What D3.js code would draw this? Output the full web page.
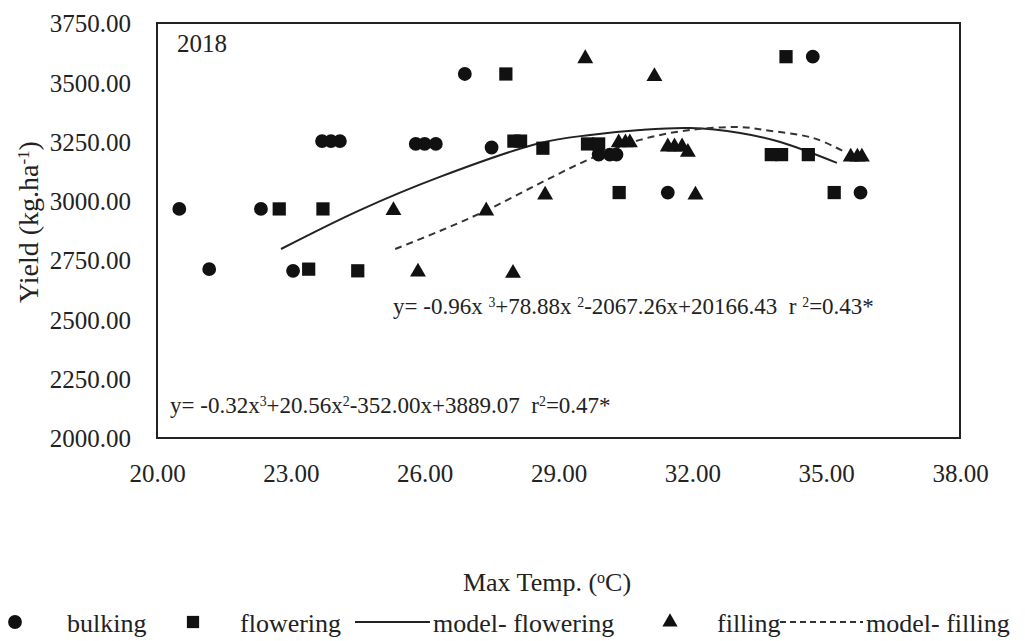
<!DOCTYPE html>
<html><head><meta charset="utf-8">
<script src="https://cdn.jsdelivr.net/npm/d3@7"></script>
<style>
html,body{margin:0;padding:0;background:#fff;}
svg text{font-family:"Liberation Serif","Times New Roman",serif;fill:#222;}
</style></head>
<body><svg id="c" width="1025" height="641"></svg>
<script>
// ---- data ----
const xTicks = [20, 23, 26, 29, 32, 35, 38];
const yTicks = [2000, 2250, 2500, 2750, 3000, 3250, 3500, 3750];

const bulkingX = [20.5, 21.17, 22.33, 23.05, 23.7, 23.9, 24.1, 25.8, 26.0, 26.25, 26.9, 27.5, 29.9, 30.15, 30.3, 31.45, 34.7, 35.77];
const bulkingY = [2966, 2712, 2966, 2705, 3252, 3252, 3252, 3240, 3240, 3240, 3535, 3225, 3195, 3195, 3195, 3035, 3608, 3035];

const floweringX = [22.74, 23.4, 23.72, 24.5, 27.82, 28.0, 28.15, 28.65, 29.65, 29.9, 30.36, 33.77, 34.0, 34.1, 34.6, 35.18];
const floweringY = [2966, 2712, 2966, 2705, 3535, 3252, 3252, 3222, 3240, 3240, 3035, 3195, 3195, 3608, 3195, 3035];

const fillingX = [25.3, 25.85, 27.38, 27.98, 28.7, 29.6, 30.35, 30.5, 30.6, 31.15, 31.45, 31.6, 31.77, 31.9, 32.07, 35.55, 35.7, 35.8];
const fillingY = [2960, 2700, 2958, 2695, 3025, 3600, 3245, 3245, 3245, 3525, 3228, 3228, 3228, 3205, 3025, 3185, 3185, 3185];

const modelFloweringX = [22.78, 24.55, 26.34, 28.59, 29.71, 30.83, 31.95, 33.07, 33.97, 35.24];
const modelFloweringY = [2797, 2961, 3101, 3244, 3278, 3299, 3307, 3286, 3248, 3160];

const modelFillingX = [25.34, 26.34, 27.40, 28.59, 29.71, 30.83, 31.95, 33.07, 33.6, 34.71, 35.42];
const modelFillingY = [2797, 2873, 2961, 3075, 3177, 3257, 3299, 3311, 3299, 3265, 3206];

const legendLabels = ["bulking", "flowering", "model- flowering", "filling", "model- filling"];

// ---- layout ----
const svg = d3.select("#c");
const L = 157, R = 960, T = 23, B = 438;
const x = d3.scaleLinear().domain([20, 38]).range([L, R]);
const y = d3.scaleLinear().domain([2000, 3750]).range([B, T]);
const FS = 25;
const ink = "#111";

const xAxis = d3.axisBottom(x).tickValues(xTicks).tickFormat(d3.format(".2f")).tickSize(0).tickPadding(0);
const gx = svg.append("g").attr("transform", `translate(0,${B})`).call(xAxis);
gx.select(".domain").remove();
gx.selectAll("text").attr("y", 44).attr("dy", null).style("font-size", FS + "px")
  .style("font-family", '"Liberation Serif",serif').attr("fill", "#222");

const yAxis = d3.axisLeft(y).tickValues(yTicks).tickFormat(d3.format(".2f")).tickSize(0).tickPadding(0);
const gy = svg.append("g").attr("transform", `translate(131,0)`).call(yAxis);
gy.select(".domain").remove();
gy.selectAll("text").attr("x", 0).attr("dy", "0.35em").style("font-size", FS + "px")
  .style("font-family", '"Liberation Serif",serif').attr("fill", "#222");

// plot border
svg.append("rect").attr("x", L).attr("y", T).attr("width", R - L).attr("height", B - T)
  .attr("fill", "none").attr("stroke", "#222").attr("stroke-width", 2);

// year label
svg.append("text").attr("x", 177).attr("y", 52).style("font-size", "25px").text("2018");

// model curves
const line = d3.line().x(d => x(d[0])).y(d => y(d[1])).curve(d3.curveCatmullRom.alpha(0.5));
svg.append("path").datum(d3.zip(modelFloweringX, modelFloweringY)).attr("d", line)
  .attr("fill", "none").attr("stroke", "#222").attr("stroke-width", 2);
svg.append("path").datum(d3.zip(modelFillingX, modelFillingY)).attr("d", line)
  .attr("fill", "none").attr("stroke", "#333").attr("stroke-width", 2).attr("stroke-dasharray", "7,5");

// markers
const circ = d3.symbol().type(d3.symbolCircle).size(150);
const sq = d3.symbol().type(d3.symbolSquare).size(175);
const tri = d3.symbol().type(d3.symbolTriangle).size(110);
function pts(xs, ys, sym) {
  svg.append("g").selectAll("path").data(d3.zip(xs, ys)).join("path")
    .attr("d", sym).attr("fill", ink)
    .attr("transform", d => `translate(${x(d[0])},${y(d[1])})`);
}
pts(bulkingX, bulkingY, circ);
pts(floweringX, floweringY, sq);
pts(fillingX, fillingY, tri);

// equations
function eq(xp, yp, parts, fs) {
  const t = svg.append("text").attr("x", xp).attr("y", yp).style("font-size", fs + "px");
  parts.forEach(p => {
    const s = t.append("tspan").text(p[0]);
    if (p[1]) s.attr("baseline-shift", "super").style("font-size", (fs * 0.6) + "px");
  });
}
const sp = "\u00a0";
eq(393, 314, [["y= -0.96x" + sp], ["3", 1], ["+78.88x" + sp], ["2", 1], ["-2067.26x+20166.43" + sp + sp + "r" + sp], ["2", 1], ["=0.43*"]], 23);
eq(170, 413, [["y= -0.32x"], ["3", 1], ["+20.56x"], ["2", 1], ["-352.00x+3889.07" + sp + sp + "r"], ["2", 1], ["=0.47*"]], 23);

// axis titles
svg.append("text").attr("x", 547).attr("y", 591).attr("text-anchor", "middle").style("font-size", "26px")
  .call(t => { t.append("tspan").text("Max Temp. ("); t.append("tspan").text("o").attr("baseline-shift", "super").style("font-size", "16px"); t.append("tspan").text("C)"); });
svg.append("text").attr("transform", "translate(38,222) rotate(-90)").attr("text-anchor", "middle").style("font-size", "28px")
  .call(t => { t.append("tspan").text("Yield (kg.ha"); t.append("tspan").text("-1").attr("baseline-shift", "super").style("font-size", "17px"); t.append("tspan").text(")"); });

// legend
const LFS = 26, ly = 632, my = 622;
const lg = svg.append("g");
lg.append("path").attr("d", circ).attr("fill", ink).attr("transform", `translate(15,${my})`);
lg.append("text").attr("x", 67).attr("y", ly).style("font-size", LFS + "px").text(legendLabels[0]);
lg.append("path").attr("d", d3.symbol().type(d3.symbolSquare).size(150)).attr("fill", ink).attr("transform", `translate(193,${my})`);
lg.append("text").attr("x", 240).attr("y", ly).style("font-size", LFS + "px").text(legendLabels[1]);
lg.append("line").attr("x1", 355).attr("x2", 430).attr("y1", my).attr("y2", my).attr("stroke", "#222").attr("stroke-width", 2);
lg.append("text").attr("x", 433).attr("y", ly).style("font-size", LFS + "px").text(legendLabels[2]);
lg.append("path").attr("d", d3.symbol().type(d3.symbolTriangle).size(100)).attr("fill", ink).attr("transform", `translate(670,${my})`);
lg.append("text").attr("x", 717).attr("y", ly).style("font-size", LFS + "px").text(legendLabels[3]);
lg.append("line").attr("x1", 780).attr("x2", 863).attr("y1", my).attr("y2", my).attr("stroke", "#333").attr("stroke-width", 2).attr("stroke-dasharray", "6,4");
lg.append("text").attr("x", 866).attr("y", ly).style("font-size", LFS + "px").text(legendLabels[4]);
</script></body></html>
